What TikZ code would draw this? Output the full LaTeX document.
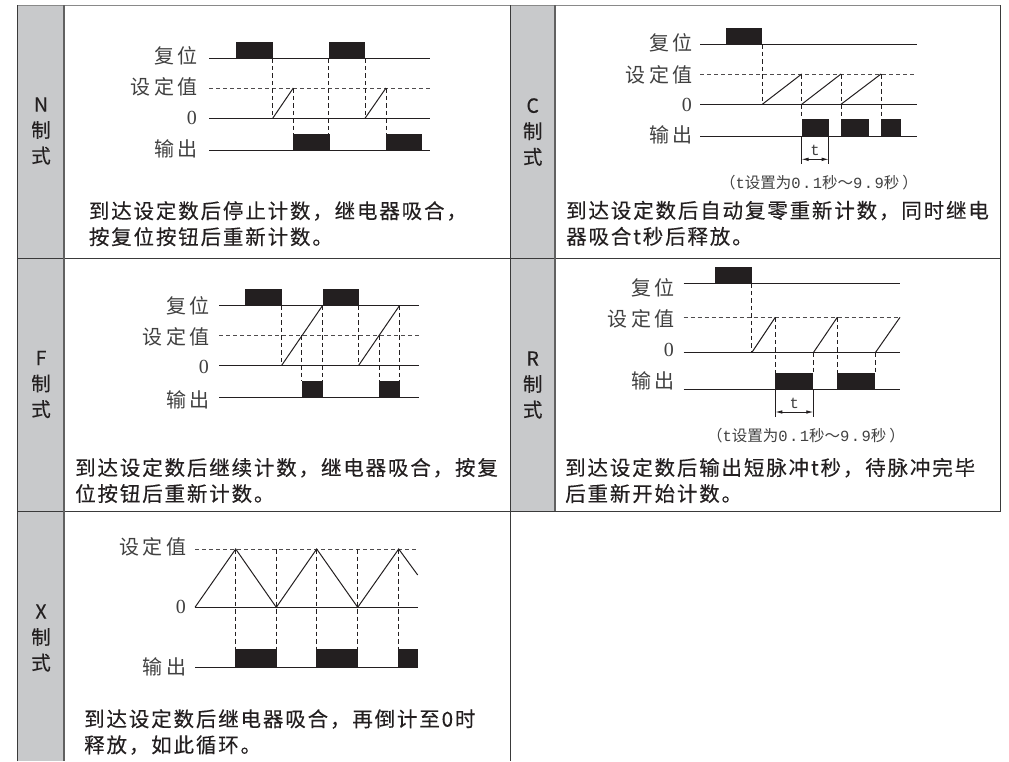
\documentclass[tikz,border=0pt]{standalone}
\usepackage{fontspec}
\usepackage{xcolor}
\usetikzlibrary{arrows.meta,positioning,calc}
\setmainfont{Noto Sans CJK SC}
\newfontfamily\descfont[LetterSpace=9,FakeBold=0.25]{Noto Sans CJK SC}
\newfontfamily\namefont[FakeBold=0.25]{Noto Sans CJK SC}
\newfontfamily\lblfont[LetterSpace=18]{Noto Sans CJK SC}
\newfontfamily\zerofont{Liberation Serif}
\newfontfamily\notemono[LetterSpace=9]{Liberation Mono}
\definecolor{band}{HTML}{C8C9CB}
\definecolor{ink}{HTML}{231F20}
\definecolor{rule}{HTML}{3A3A3A}
\definecolor{labelgray}{HTML}{404040}
\tikzset{
  sideband/.style={fill=band, draw=none},
  tablerule/.style={draw=rule, line width=1pt},
  bandrule/.style={draw=rule!80, line width=1.6pt},
  sigline/.style={draw=ink, line width=1pt},
  setline/.style={draw=ink!80, line width=0.9pt, dash pattern=on 4pt off 3pt},
  dropline/.style={draw=ink, line width=0.9pt, dash pattern=on 4.5pt off 3pt},
  pulse/.style={fill=ink, draw=none},
  siglabel/.style={text=labelgray, font=\lblfont\fontsize{20}{20}\selectfont, anchor=east, inner sep=0pt},
  zerolabel/.style={text=labelgray, font=\zerofont\fontsize{20}{20}\selectfont, anchor=east, inner sep=0pt},
  desc/.style={text=ink, font=\descfont\fontsize{20.5}{26}\selectfont, anchor=west, align=left, inner sep=0pt},
  modename/.style={text=ink, font=\namefont\fontsize{19.5}{25.7}\selectfont, align=center, inner sep=0pt},
  tnote/.style={text=labelgray, font=\fontsize{15.5}{16}\selectfont, inner sep=0pt},
  tspan/.style={{Latex[length=7pt,width=3.5pt]}-{Latex[length=7pt,width=3.5pt]}, draw=ink, line width=0.8pt},
  tbar/.style={draw=ink, line width=0.9pt}
}
\newcommand{\tnotetext}{（{\notemono t}设置为{\notemono 0.1}秒～{\notemono 9.9}秒\hspace{3pt}）}

\begin{document}
\begin{tikzpicture}[x=1pt, y=-1pt]
  \useasboundingbox (0,0) rectangle (1009,761);

  % Side bands
  \path[sideband] (17.5,5) rectangle (64,761);
  \path[sideband] (510,5) rectangle (555,511);

  % Table rules
  \draw[tablerule, draw=rule!60] (17.5,5) -- (1000.7,5);
  \draw[tablerule] (17.5,761) -- (17.5,5);
  \draw[tablerule] (1000.7,5) -- (1000.7,511.3);
  \draw[tablerule] (17.5,258) -- (1000.7,258);
  \draw[tablerule] (17.5,511.3) -- (1000.7,511.3);
  \draw[tablerule] (510,5) -- (510,761);
  \draw[bandrule] (64,5) -- (64,761);
  \draw[bandrule] (555,5) -- (555,511.3);

  % Mode names
  \node[modename] (nname) at (41,131) {N\\制\\式};
  \node[modename] (cname) at (532.7,132) {C\\制\\式};
  \node[modename] (fname) at (41,384.5) {F\\制\\式};
  \node[modename] (rname) at (532.7,385) {R\\制\\式};
  \node[modename] (xname) at (41,638) {X\\制\\式};

  % N mode
  \path[pulse] (236,41.7) rectangle (272.7,58.3);
  \path[pulse] (328.7,41.7) rectangle (365,58.3);
  \path[pulse] (293.3,134.3) rectangle (329.5,150.7);
  \path[pulse] (386,134.3) rectangle (422.3,150.7);
  \draw[sigline] (209,58.3) -- (430,58.3);
  \draw[setline] (209,88) -- (430,88);
  \draw[sigline] (209,118.3) -- (430,118.3);
  \draw[sigline] (209,150.7) -- (430,150.7);
  \draw[sigline] (272.7,118.3) -- (293.3,88);
  \draw[sigline] (365,118.3) -- (386,88);
  \draw[dropline] (272.7,58.3) -- (272.7,118.3);
  \draw[dropline] (293.3,88) -- (293.3,134.3);
  \draw[dropline] (328.7,58.3) -- (328.7,134.3);
  \draw[dropline] (365,58.3) -- (365,118.3);
  \draw[dropline] (386,88) -- (386,134.3);
  \node[siglabel] (nreset) at (198,55.5) {复位};
  \node[siglabel] (nset) at (198,86.5) {设定值};
  \node[zerolabel] (nzero) at (197,118) {0};
  \node[siglabel] (nout) at (198,149) {输出};
  \node[desc] (ndesc) at (88.7,223.7) {到达设定数后停止计数，继电器吸合，\\按复位按钮后重新计数。};

  % C mode
  \path[pulse] (726,27.7) rectangle (762.3,44);
  \path[pulse] (801.5,119) rectangle (828.7,136.3);
  \path[pulse] (841,119) rectangle (868.7,136.3);
  \path[pulse] (880.7,119) rectangle (901.3,136.3);
  \draw[sigline] (700,44) -- (916.7,44);
  \draw[setline] (700,74) -- (916.7,74);
  \draw[sigline] (700,104.3) -- (916.7,104.3);
  \draw[sigline] (700,136.3) -- (916.7,136.3);
  \draw[sigline] (762.3,104.3) -- (801.7,74);
  \draw[sigline] (801.7,104.3) -- (841,74);
  \draw[sigline] (841,104.3) -- (881,74);
  \draw[dropline] (762.3,44) -- (762.3,104.3);
  \draw[dropline] (801.7,74) -- (801.7,119);
  \draw[dropline] (841,74) -- (841,119);
  \draw[dropline] (881,74) -- (881,119);
  \node[siglabel] (creset) at (693,42.5) {复位};
  \node[siglabel] (cset) at (693,74.5) {设定值};
  \node[zerolabel] (czero) at (692,105) {0};
  \node[siglabel] (cout) at (693,135) {输出};
  \coordinate (cta) at (801.5,159.3);
  \coordinate (ctb) at (828.7,159.3);
  \draw[tbar] (801.5,136.3) -- (801.5,164.3);
  \draw[tbar] (828.7,136.3) -- (828.7,164.3);
  \draw[tspan] (cta) -- (ctb);
  \node[tnote] (ct) at (815,150) {\notemono t};
  \node[tnote] (cnote) at (819,182.7) {\tnotetext};
  \node[desc] (cdesc) at (566,223.3) {到达设定数后自动复零重新计数，同时继电\\器吸合t秒后释放。};

  % F mode
  \path[pulse] (245,288.7) rectangle (281.7,305.3);
  \path[pulse] (322.7,288.7) rectangle (358.7,305.3);
  \path[pulse] (301.7,380.7) rectangle (323,397.3);
  \path[pulse] (379,380.7) rectangle (400,397.3);
  \draw[sigline] (219,305.3) -- (419,305.3);
  \draw[setline] (219,335) -- (419,335);
  \draw[sigline] (219,365.3) -- (419,365.3);
  \draw[sigline] (219,397.3) -- (419,397.3);
  \draw[sigline] (281.7,365.3) -- (322.7,305.3);
  \draw[sigline] (358.7,365.3) -- (399.7,305.3);
  \draw[dropline] (281.7,305.3) -- (281.7,365.3);
  \draw[dropline] (301.7,335) -- (301.7,380.7);
  \draw[dropline] (322.7,305.3) -- (322.7,380.7);
  \draw[dropline] (358.7,305.3) -- (358.7,365.3);
  \draw[dropline] (379,335) -- (379,380.7);
  \draw[dropline] (399.7,305.3) -- (399.7,380.7);
  \node[siglabel] (freset) at (210,306) {复位};
  \node[siglabel] (fset) at (210,337) {设定值};
  \node[zerolabel] (fzero) at (209,367) {0};
  \node[siglabel] (fout) at (210,400) {输出};
  \node[desc] (fdesc) at (75,480.5) {到达设定数后继续计数，继电器吸合，按复\\位按钮后重新计数。};

  % R mode
  \path[pulse] (715.3,266.7) rectangle (751.7,283.3);
  \path[pulse] (775.3,372.7) rectangle (813.3,389.3);
  \path[pulse] (837.3,372.7) rectangle (875.3,389.3);
  \draw[sigline] (683.7,283.3) -- (900,283.3);
  \draw[setline] (683.7,317.3) -- (900,317.3);
  \draw[sigline] (683.7,352.7) -- (900,352.7);
  \draw[sigline] (683.7,389.3) -- (900,389.3);
  \draw[sigline] (751.7,352.7) -- (775.3,317.3);
  \draw[sigline] (813.3,352.7) -- (837.3,317.3);
  \draw[sigline] (875.3,352.7) -- (900,317.3);
  \draw[dropline] (751.7,283.3) -- (751.7,352.7);
  \draw[dropline] (775.3,317.3) -- (775.3,372.7);
  \draw[dropline] (813.3,352.7) -- (813.3,372.7);
  \draw[dropline] (837.3,317.3) -- (837.3,372.7);
  \draw[dropline] (875.3,352.7) -- (875.3,372.7);
  \node[siglabel] (rreset) at (675,288) {复位};
  \node[siglabel] (rset) at (675,318.7) {设定值};
  \node[zerolabel] (rzero) at (674,350) {0};
  \node[siglabel] (rout) at (675,381) {输出};
  \coordinate (rta) at (775.3,412);
  \coordinate (rtb) at (813.3,412);
  \draw[tbar] (775.3,389.3) -- (775.3,417.3);
  \draw[tbar] (813.3,389.3) -- (813.3,417.3);
  \draw[tspan] (rta) -- (rtb);
  \node[tnote] (rt) at (794.3,403.7) {\notemono t};
  \node[tnote] (rnote) at (806,435.7) {\tnotetext};
  \node[desc] (rdesc) at (565,480.5) {到达设定数后输出短脉冲t秒，待脉冲完毕\\后重新开始计数。};

  % X mode
  \path[pulse] (234.7,649.3) rectangle (276.7,667);
  \path[pulse] (316,649.3) rectangle (358.3,667);
  \path[pulse] (398.3,649.3) rectangle (417.7,667);
  \draw[setline] (195,549) -- (417.7,549);
  \draw[sigline] (195,607.3) -- (417.7,607.3);
  \draw[sigline] (195,667) -- (417.7,667);
  \draw[sigline] (195,607.3) -- (235.7,549) -- (276.3,607.3) -- (316.7,549) -- (357.7,607.3) -- (398.7,549) -- (417.7,575);
  \draw[dropline] (235.7,549) -- (235.7,649.3);
  \draw[dropline] (276.3,549) -- (276.3,649.3);
  \draw[dropline] (316.7,549) -- (316.7,649.3);
  \draw[dropline] (357.7,549) -- (357.7,649.3);
  \draw[dropline] (398.7,549) -- (398.7,649.3);
  \node[siglabel] (xset) at (186.5,547) {设定值};
  \node[zerolabel] (xzero) at (186,607) {0};
  \node[siglabel] (xout) at (186.5,667) {输出};
  \node[desc] (xdesc) at (84,732) {到达设定数后继电器吸合，再倒计至0时\\释放，如此循环。};
\end{tikzpicture}
\end{document}
